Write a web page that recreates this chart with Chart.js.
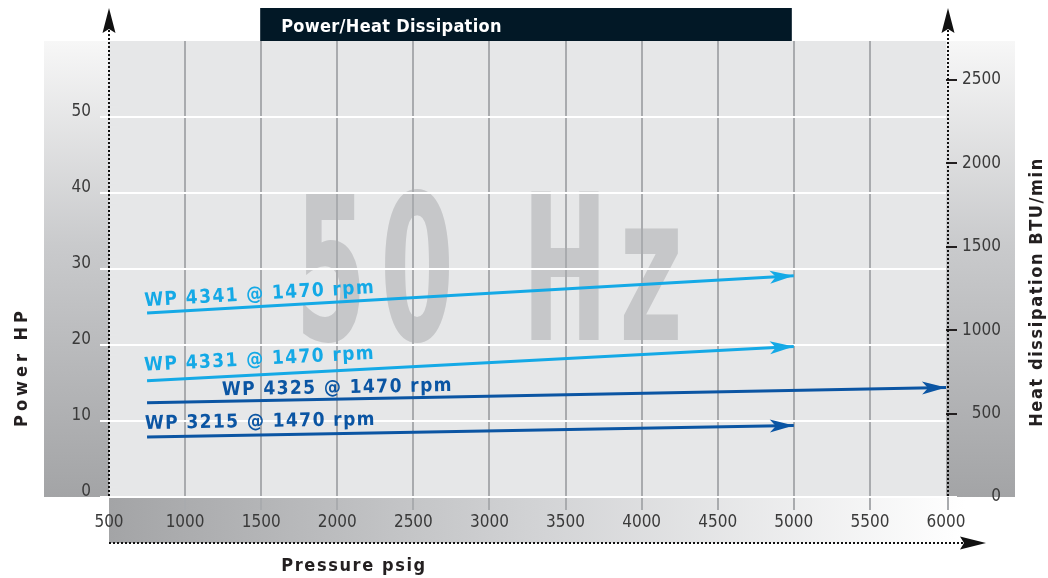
<!DOCTYPE html>
<html><head><meta charset="utf-8">
<script src="https://cdn.jsdelivr.net/npm/chart.js@4.4.1/dist/chart.umd.min.js"></script>
<style>html,body{margin:0;padding:0;background:#fff;overflow:hidden}#wrap{width:1048px;height:578px;position:relative}</style>
</head><body><div id="wrap"><canvas id="c" width="1048" height="578"></canvas></div>
<script>
// ---- data ----
const modelNames = ['WP 4341 @ 1470 rpm', 'WP 4331 @ 1470 rpm', 'WP 4325 @ 1470 rpm', 'WP 3215 @ 1470 rpm'];
const startPressure = [750, 750, 750, 750];       // psig
const endPressure   = [5000, 5000, 6000, 5000];   // psig
const startPower    = [24.2, 15.3, 12.4, 7.9];    // HP
const endPower      = [29.1, 19.8, 14.4, 9.4];    // HP
const pressureTicks = [500, 1000, 1500, 2000, 2500, 3000, 3500, 4000, 4500, 5000, 5500, 6000];
const powerTicks    = [0, 10, 20, 30, 40, 50];
const heatTicks     = [0, 500, 1000, 1500, 2000, 2500];
const chartTitle = 'Power/Heat Dissipation';
const watermarkChars = ['5', '0', 'H', 'z'];
const xTitle = 'Pressure psig';
const yTitle = 'Power HP';
const y1Title = 'Heat dissipation BTU/min';

// ---- style ----
const LIGHT = '#14a9e6', DARK = '#0b55a3';
const lineColors = [LIGHT, LIGHT, DARK, DARK];
const NARROW = "'Liberation Sans Narrow','DejaVu Sans Condensed','Arial Narrow',sans-serif";
const labelShift = [-2, -2, 75, -2];
const labelLift = [7, 10, 6, 8];

const datasets = modelNames.map((n, i) => ({
  label: n,
  data: [{x: startPressure[i], y: startPower[i]}, {x: endPressure[i], y: endPower[i]}],
  borderColor: lineColors[i],
  borderWidth: 3,
  pointRadius: 0,
  fill: false,
  tension: 0,
  yAxisID: 'y'
}));

function dotted(ctx, x1, y1, x2, y2) {
  ctx.save();
  ctx.strokeStyle = '#111';
  ctx.lineWidth = 2;
  ctx.setLineDash([2, 2]);
  ctx.beginPath(); ctx.moveTo(x1, y1); ctx.lineTo(x2, y2); ctx.stroke();
  ctx.restore();
}
function stealth(ctx, x, y, ang, len, half, notch, color) {
  ctx.save();
  ctx.translate(x, y); ctx.rotate(ang);
  ctx.beginPath();
  ctx.moveTo(0, 0); ctx.lineTo(-len, -half); ctx.lineTo(-len + notch, 0); ctx.lineTo(-len, half);
  ctx.closePath();
  ctx.fillStyle = color; ctx.fill();
  ctx.restore();
}

const decor = {
  id: 'decor',
  beforeDraw(chart) {
    const ctx = chart.ctx, a = chart.chartArea;
    ctx.save();
    // left band
    let g = ctx.createLinearGradient(0, a.top, 0, a.bottom);
    g.addColorStop(0, '#f7f7f7'); g.addColorStop(0.45, '#c9cacc'); g.addColorStop(1, '#a3a4a6');
    ctx.fillStyle = g;
    ctx.fillRect(44, a.top, a.left - 44, a.bottom - a.top);
    // right band
    ctx.fillRect(a.right, a.top, 1015 - a.right, a.bottom - a.top);
    // bottom band
    g = ctx.createLinearGradient(a.left, 0, 965, 0);
    g.addColorStop(0, '#a3a4a6'); g.addColorStop(0.5, '#d2d3d5'); g.addColorStop(1, '#ffffff');
    ctx.fillStyle = g;
    ctx.fillRect(a.left, a.bottom, 965 - a.left, 46);
    // plot area
    ctx.fillStyle = '#e6e7e8';
    ctx.fillRect(a.left, a.top, a.right - a.left, a.bottom - a.top);
    // watermark
    ctx.fillStyle = '#c6c7c9';
    ctx.font = 'bold 204px ' + NARROW;
    ctx.textAlign = 'center';
    ctx.textBaseline = 'alphabetic';
    const centers = [331, 417, 565, 651];
    const sx = [0.56, 0.58, 0.56, 0.6];
    watermarkChars.forEach((ch, i) => {
      ctx.save();
      ctx.translate(centers[i], 340);
      ctx.scale(sx[i], 1);
      ctx.fillText(ch, 0, 0);
      ctx.restore();
    });
    ctx.restore();
  },
  afterDatasetsDraw(chart) {
    const ctx = chart.ctx;
    ctx.save();
    chart.data.datasets.forEach((ds, i) => {
      const meta = chart.getDatasetMeta(i);
      const p0 = meta.data[0], p1 = meta.data[1];
      const ang = Math.atan2(p1.y - p0.y, p1.x - p0.x);
      stealth(ctx, p1.x, p1.y, ang, 24, 6.5, 6, ds.borderColor);
      ctx.save();
      ctx.translate(p0.x, p0.y); ctx.rotate(ang);
      ctx.fillStyle = ds.borderColor;
      ctx.font = 'bold 19px ' + NARROW;
      ctx.letterSpacing = '1.4px';
      ctx.textAlign = 'left'; ctx.textBaseline = 'alphabetic';
      ctx.fillText(ds.label, labelShift[i], -labelLift[i]);
      ctx.restore();
    });
    ctx.restore();
  },
  afterDraw(chart) {
    const ctx = chart.ctx, a = chart.chartArea, xs = chart.scales.x;
    ctx.save();
    // stub of the 6000 grid line below the plot
    ctx.fillStyle = '#a9abae';
    ctx.fillRect(a.right + 1, a.bottom, 2, 13);
    // dotted axes
    dotted(ctx, a.left, 30, a.left, a.bottom);
    stealth(ctx, a.left, 8, -Math.PI / 2, 25, 6.5, 4, '#111');
    const rx = a.right + 2;
    dotted(ctx, rx, 30, rx, a.bottom);
    stealth(ctx, rx, 8, -Math.PI / 2, 25, 6.5, 4, '#111');
    dotted(ctx, a.left, 543, 965, 543);
    stealth(ctx, 986, 543, 0, 26, 6.5, 4, '#111');
    // title box
    const bx1 = xs.getPixelForValue(1500) - 1, bx2 = xs.getPixelForValue(5000) - 2;
    ctx.fillStyle = '#021826';
    ctx.fillRect(bx1, 8, bx2 - bx1, a.top - 8);
    ctx.fillStyle = '#ffffff';
    ctx.font = 'bold 18px ' + NARROW;
    ctx.letterSpacing = '0.3px';
    ctx.textAlign = 'left'; ctx.textBaseline = 'alphabetic';
    ctx.fillText(chartTitle, bx1 + 21, 32);
    // axis titles
    ctx.fillStyle = '#231f20';
    ctx.font = 'bold 18px ' + NARROW;
    ctx.textAlign = 'center'; ctx.textBaseline = 'middle';
    ctx.letterSpacing = '1.6px';
    ctx.fillText(xTitle, 354, 566);
    ctx.save();
    ctx.translate(22, 367); ctx.rotate(-Math.PI / 2);
    ctx.letterSpacing = '4px';
    ctx.fillText(yTitle, 0, 0);
    ctx.restore();
    ctx.save();
    ctx.translate(1037, 292); ctx.rotate(-Math.PI / 2);
    ctx.letterSpacing = '1.6px';
    ctx.fillText(y1Title, 0, 0);
    ctx.restore();
    ctx.restore();
  }
};

const tickFont = {family: NARROW, size: 17};
const plain = v => String(v);
new Chart(document.getElementById('c'), {
  type: 'line',
  data: {datasets},
  plugins: [decor],
  options: {
    responsive: false,
    animation: false,
    events: [],
    layout: {padding: {left: 44, right: 47, top: 41, bottom: 35}},
    plugins: {legend: {display: false}, tooltip: {enabled: false}, title: {display: false}},
    scales: {
      x: {
        type: 'linear', position: 'bottom', min: 500, max: 6000,
        afterBuildTicks: s => { s.ticks = pressureTicks.map(v => ({value: v})); },
        afterFit: s => { s.height = 46; },
        border: {display: false},
        grid: {
          color: c => (c.tick && (c.tick.value === 500 || c.tick.value === 6000)) ? 'rgba(0,0,0,0)' : '#a9abae',
          lineWidth: 2, drawTicks: true, tickLength: 13
        },
        ticks: {font: tickFont, color: '#3a3a3a', padding: 2, maxRotation: 0, autoSkip: false, callback: plain}
      },
      y: {
        type: 'linear', position: 'left', min: 0, max: 60,
        afterBuildTicks: s => { s.ticks = powerTicks.map(v => ({value: v})); },
        afterFit: s => { s.width = 65; },
        border: {display: false},
        grid: {color: '#ffffff', lineWidth: 2, drawTicks: true, tickLength: 9},
        ticks: {font: tickFont, color: '#3a3a3a', padding: 9, labelOffset: -5, callback: plain}
      },
      y1: {
        type: 'linear', position: 'right', min: 0, max: 2734,
        afterBuildTicks: s => { s.ticks = heatTicks.map(v => ({value: v})); },
        afterFit: s => { s.width = 55; },
        border: {display: false},
        grid: {
          drawOnChartArea: false, drawTicks: true, tickLength: 11, lineWidth: 2,
          color: c => (c.tick && c.tick.value === 0) ? '#ffffff' : '#231f20'
        },
        ticks: {font: tickFont, color: '#3a3a3a', padding: 2, crossAlign: 'far', callback: plain}
      }
    }
  }
});
</script>
</body></html>
